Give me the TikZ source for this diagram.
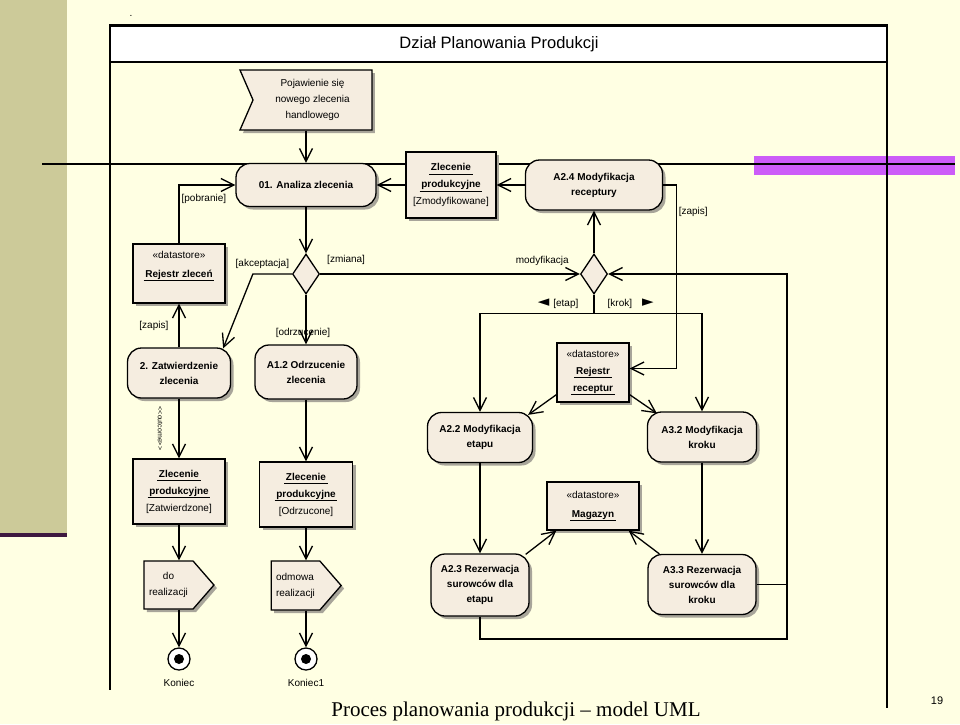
\documentclass[tikz,border=0pt]{standalone}
\usepackage{fontspec}
\setmainfont{Liberation Sans}
\newfontfamily\serifrm{Liberation Serif}
\newfontfamily\symfnt{DejaVu Sans}
\usetikzlibrary{shapes,shapes.symbols,arrows.meta,shadows}
\definecolor{slide}{HTML}{FFFFE3}
\definecolor{strip}{HTML}{CCCA99}
\definecolor{stripline}{HTML}{3E1840}
\definecolor{magbar}{HTML}{CC5CF8}
\definecolor{nodefill}{HTML}{F5EDE0}
\definecolor{shade}{HTML}{A8A59A}
\newcommand\ulabel[1]{\underline{\vphantom{pj}\,#1\,}}
\tikzstyle{every picture}=[x=1pt, y=-1pt, line width=1.3pt,%
	>={Straight Barb[length=13pt,width=13pt]}, font=\fontsize{10}{15}\selectfont]
\tikzstyle{shadowed}=[drop shadow={shadow xshift=3pt, shadow yshift=-3pt, fill=shade, opacity=1}]
\tikzstyle{activity}=[draw, line width=1.3pt, fill=nodefill, shadowed, rounded corners=14pt,%
	align=center, inner sep=2pt, font=\bfseries\fontsize{10}{15}\selectfont]
\tikzstyle{object}=[draw, line width=1.3pt, fill=nodefill, shadowed, align=center,%
	inner sep=2pt, font=\fontsize{10}{17}\selectfont]
\tikzstyle{decision}=[draw, diamond, line width=1.3pt, fill=nodefill, minimum width=27,%
	minimum height=40, inner sep=0pt]
\tikzstyle{sendsig}=[draw, signal, signal to=east, signal from=nowhere, signal pointer angle=98,%
	line width=1.3pt, fill=nodefill, shadowed, inner sep=2pt, font=\fontsize{10}{16}\selectfont]
\tikzstyle{acceptsig}=[draw, signal, signal to=nowhere, signal from=west, signal pointer angle=133,%
	line width=1.3pt, fill=nodefill, shadowed, align=center, inner sep=2pt, font=\fontsize{10}{16}\selectfont]
\tikzstyle{final}=[circle, draw, line width=1.3pt, fill=white, minimum size=22, inner sep=0pt,%
	path picture={\fill[black] (path picture bounding box.center) circle (5pt);}]
\tikzstyle{guard}=[inner sep=2pt, font=\fontsize{10}{12}\selectfont]
\newcommand\tri[1]{{\symfnt\fontsize{15}{12}\selectfont #1}}

\begin{document}
\begin{tikzpicture}
	\useasboundingbox (0,0) rectangle (960,724);
	\fill[slide] (0,0) rectangle (960,724);
	\fill[strip] (0,0) rectangle (67,533);
	\fill[stripline] (0,533) rectangle (67,537);
	\fill[magbar] (754,156) rectangle (955,175);
	\node at (131,16) {.};
	% pool
	\fill[white] (110,25) rectangle (887,62);
	\draw[line width=3pt] (109,25) -- (888,25);
	\draw[line width=1.5pt] (110,25) -- (110,690) (887,25) -- (887,708) (110,62) -- (887,62);
	\node (pooltitle) at (499,44) {\fontsize{16.5}{20}\selectfont Dział Planowania Produkcji};
	\draw[line width=1.8pt] (42,164) -- (955,164);
	% nodes
	\node[acceptsig, minimum width=132, minimum height=60] (pojaw) at (312.5,100) {Pojawienie się\\nowego zlecenia\\handlowego};
	\node[activity, minimum width=140, minimum height=43] (analiza) at (306,185) {01. Analiza zlecenia};
	\node[object, minimum width=90, minimum height=66] (zlzmod) at (451,185) {\textbf{\ulabel{Zlecenie}}\\\textbf{\ulabel{produkcyjne}}\\{}[Zmodyfikowane]};
	\node[activity, minimum width=137, minimum height=50] (a24) at (594,185) {A2.4 Modyfikacja\\receptury};
	\node[object, minimum width=92, minimum height=59, font=\fontsize{10}{19}\selectfont] (rejzl) at (179,273.5) {«datastore»\\\textbf{\ulabel{Rejestr zleceń}}\\~};
	\node[decision] (dec1) at (306,274) {};
	\node[decision] (dec2) at (594,274) {};
	\node[activity, minimum width=103, minimum height=50] (zatw) at (179,373) {2. Zatwierdzenie\\zlecenia};
	\node[activity, minimum width=102, minimum height=54] (a12) at (306,372) {A1.2 Odrzucenie\\zlecenia};
	\node[object, minimum width=72, minimum height=59] (rejrec) at (593,372.5) {«datastore»\\\textbf{\ulabel{Rejestr}}\\\textbf{\ulabel{receptur}}};
	\node[activity, minimum width=105, minimum height=50] (a22) at (480,437.5) {A2.2 Modyfikacja\\etapu};
	\node[activity, minimum width=109, minimum height=50] (a32) at (702,437) {A3.2 Modyfikacja\\kroku};
	\node[object, minimum width=92, minimum height=48, font=\fontsize{10}{19}\selectfont] (magazyn) at (593,506) {«datastore»\\\textbf{\ulabel{Magazyn}}};
	\node[activity, minimum width=98, minimum height=62] (a23) at (480,585) {A2.3 Rezerwacja\\surowców dla\\etapu};
	\node[activity, minimum width=108, minimum height=60] (a33) at (702,584.5) {A3.3 Rezerwacja\\surowców dla\\kroku};
	\node[object, minimum width=92, minimum height=65] (zlzatw) at (179,491.5) {\textbf{\ulabel{Zlecenie}}\\\textbf{\ulabel{produkcyjne}}\\{}[Zatwierdzone]};
	\node[object, minimum width=93, minimum height=65] (zlodrz) at (306,494.5) {\textbf{\ulabel{Zlecenie}}\\\textbf{\ulabel{produkcyjne}}\\{}[Odrzucone]};
	\node[sendsig, minimum width=70, minimum height=48, align=center] (dorealiz) at (168.5,585) {do\\realizacji};
	\node[sendsig, minimum width=70, minimum height=49, align=left] (odmowa) at (295.5,585.5) {odmowa\\realizacji};
	\node[final, label={[label distance=5pt]below:Koniec}] (koniec) at (179,659) {};
	\node[final, label={[label distance=5pt]below:Koniec1}] (koniec1) at (306,659) {};
	\coordinate (loopc) at (787,639);
	% flows
	\draw[->] (pojaw.south -| analiza) -- (analiza);
	\draw[->] (zlzmod) -- (analiza);
	\draw[->] (a24) -- (zlzmod);
	\draw[->] (rejzl) |- node[pos=0.38, right, guard] {[pobranie]} (analiza);
	\draw[->] (zatw) -- node[left=8pt, guard] {[zapis]} (rejzl);
	\draw[->] (analiza) -- (dec1);
	\draw[->] (dec1.west) -- node[above, guard, xshift=-10pt, yshift=3pt] {[akceptacja]} ++(-39,0)%
		-- ([xshift=-8pt,yshift=-1pt]zatw.north east);
	\draw[->] (dec1) -- node[pos=0.76, guard, xshift=-3pt] {[odrzucenie]} (a12);
	\draw[->] (dec1.east) -- node[pos=0.1, above, guard, yshift=7pt] {[zmiana]}%
		node[pos=0.855, above, guard, yshift=6pt] {modyfikacja} (dec2.west);
	\draw[->] (dec2) -- (a24);
	\draw (dec2.south) -- node[left=13pt, guard] {\tri{◄}\hspace{4pt}[etap]}%
		node[right=11pt, guard] {[krok]\hspace{10pt}\tri{►}} ++(0,19) coordinate (split);
	\draw[->] (split) -| (a22.north);
	\draw[->] (split) -| (a32.north);
	\draw[->] (a24.east) -- ++(13,0) |- node[pos=0.074, right, guard] {[zapis]} ([yshift=4pt]rejrec.east);
	\draw[->] ([yshift=8pt]rejrec.south west) -- ([xshift=-5pt,yshift=-3pt]a22.north east);
	\draw[->] ([yshift=8pt]rejrec.south east) -- ([xshift=10pt,yshift=-2pt]a32.north west);
	\draw[->] (a22) -- (a23);
	\draw[->] (a32) -- (a33);
	\draw[->] ([xshift=-4pt,yshift=-1pt]a23.north east) -- ([xshift=10pt]magazyn.south west);
	\draw[->] ([xshift=12pt]a33.north west) -- ([xshift=-11pt]magazyn.south east);
	\draw[->] (a23.south) |- (loopc) |- (dec2.east);
	\draw (a33.east) -- (a33.east -| loopc);
	\draw[->] (zatw) -- node[xshift=-19pt, rotate=-90, font=\fontsize{7}{8}\selectfont] {<{}<outcome>{}>} (zlzatw);
	\draw[->] (zlzatw) -- (zlzatw |- dorealiz.north);
	\draw[->] (dorealiz.south -| koniec) -- (koniec);
	\draw[->] (a12) -- (zlodrz);
	\draw[->] (zlodrz) -- (zlodrz |- odmowa.north);
	\draw[->] (odmowa.south -| koniec1) -- (koniec1);
	% footer
	\node (caption) at (516,711) {\serifrm\fontsize{21}{24}\selectfont Proces planowania produkcji – model UML};
	\node (pagenum) at (937,701) {\fontsize{11}{13}\selectfont 19};
\end{tikzpicture}
\end{document}
